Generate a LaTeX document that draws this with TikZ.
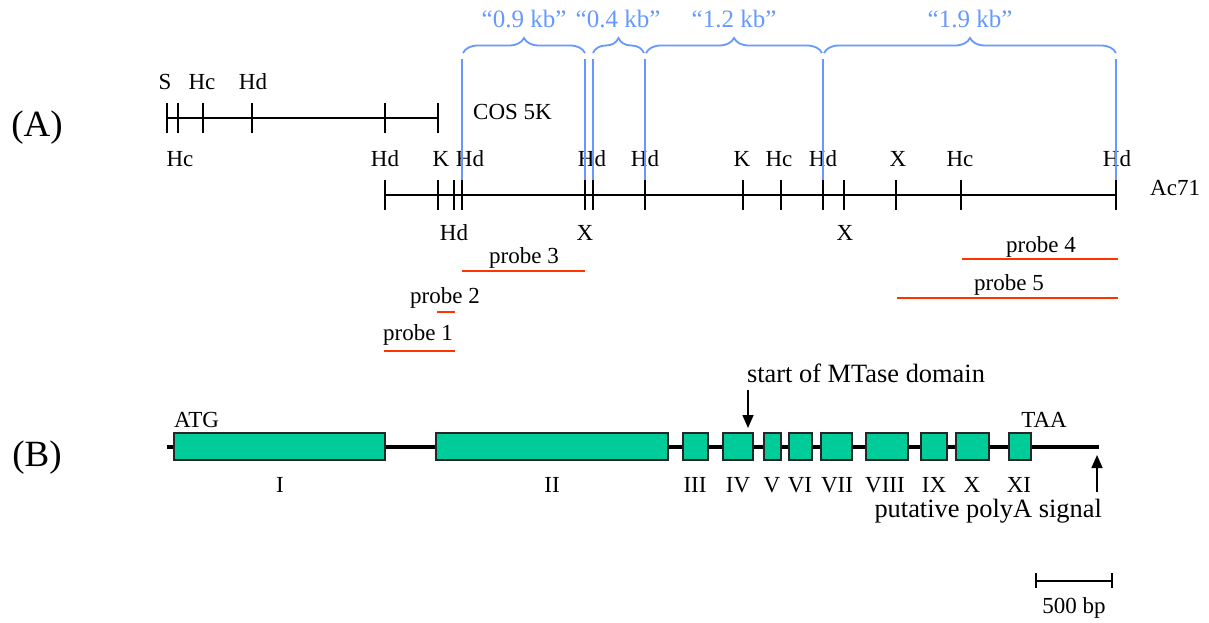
\documentclass[tikz,border=0pt]{standalone}
\usepackage{fontspec}
\setmainfont{Liberation Serif}
\usetikzlibrary{arrows.meta,decorations.pathreplacing}
\definecolor{kbblue}{RGB}{102,153,255}
\definecolor{probered}{RGB}{255,51,0}
\definecolor{exongreen}{RGB}{0,204,153}
\tikzset{
  lbl/.style={inner sep=0pt, anchor=base, font=\fontsize{23}{23}\selectfont},
  biglbl/.style={inner sep=0pt, anchor=base, font=\fontsize{26.4}{26}\selectfont},
  panel/.style={inner sep=0pt, anchor=base, font=\fontsize{37}{37}\selectfont},
  kblbl/.style={inner sep=0pt, anchor=base, font=\fontsize{25}{25}\selectfont, text=kbblue},
  mapline/.style={line width=1.8pt, black},
  tick/.style={line width=1.5pt, black},
  bluel/.style={line width=1.8pt, kbblue},
  kbbrace/.style={line width=1.8pt, kbblue, decorate, decoration={brace, amplitude=15pt}},
  probeline/.style={line width=2pt, probered},
  exon/.style={draw=black!85, line width=1.5pt, fill=exongreen, inner sep=0pt, minimum height=27pt},
  geneline/.style={line width=3.8pt, black},
  arr/.style={line width=1.6pt, -{Triangle[width=11pt,length=13pt]}},
}
\begin{document}
\begin{tikzpicture}[x=1pt,y=-1pt]
\useasboundingbox (0,0) rectangle (1209,623);

% ---------- (A) ----------
\node[panel] (pA) at (37,136) {(A)};

% COS 5K map
\coordinate (c0) at (167,118);
\coordinate (c1) at (438,118);
\draw[mapline] (c0) -- (c1);
\foreach \x in {167,178,203,252,385,438} \draw[tick] (\x,103) -- (\x,133);
\node[lbl] (tS) at (165,90) {S};
\node[lbl] (tHc) at (202,90) {Hc};
\node[lbl] (tHd) at (253,90) {Hd};
\node[lbl] (bHc) at (180,166) {Hc};
\node[lbl, anchor=base west] (cos) at (473,120) {COS 5K};

% Ac71 map
\coordinate (m0) at (385,195);
\coordinate (m1) at (1116,195);
\draw[mapline] (m0) -- (m1);
\foreach \x in {385,438,454,462,585,593,645,743,781,823,844,896,961,1116} \draw[tick] (\x,180) -- (\x,210);
\node[lbl] (a1) at (385,166) {Hd};
\node[lbl] (a2) at (441,166) {K};
\node[lbl] (a3) at (470,166) {Hd};
\node[lbl] (a4) at (592,166) {Hd};
\node[lbl] (a5) at (645,166) {Hd};
\node[lbl] (a6) at (742,166) {K};
\node[lbl] (a7) at (779,166) {Hc};
\node[lbl] (a8) at (823,166) {Hd};
\node[lbl] (a9) at (898,166) {X};
\node[lbl] (a10) at (960,166) {Hc};
\node[lbl] (a11) at (1117,166) {Hd};
\node[lbl] (b1) at (454,240) {Hd};
\node[lbl] (b2) at (585,240) {X};
\node[lbl] (b3) at (845,240) {X};
\node[lbl, anchor=base west] (ac71) at (1150,195) {Ac71};

% blue fragment markers
\foreach \x/\n in {462/k1,585/k2,593/k3,645/k4,823/k5,1116/k6} {
  \coordinate (\n t) at (\x,59);
  \coordinate (\n b) at (\x,180);
  \draw[bluel] (\n t) -- (\n b);
}
\draw[kbbrace] (463,53) -- (585,53);
\draw[kbbrace] (593,53) -- (644,53);
\draw[kbbrace] (646,53) -- (822,53);
\draw[kbbrace] (824,53) -- (1116,53);
\node[kblbl] (kb1) at (524,28) {“0.9 kb”};
\node[kblbl] (kb2) at (618,28) {“0.4 kb”};
\node[kblbl] (kb3) at (734,28) {“1.2 kb”};
\node[kblbl] (kb4) at (970,28) {“1.9 kb”};

% probes
\node[lbl] (p3) at (524,263) {probe 3};
\draw[probeline] (462,271) -- (585,271);
\node[lbl] (p2) at (445,303) {probe 2};
\draw[probeline] (437,312) -- (455,312);
\node[lbl] (p1) at (418,340) {probe 1};
\draw[probeline] (384,351) -- (455,351);
\node[lbl] (p4) at (1041,252) {probe 4};
\draw[probeline] (962,259) -- (1118,259);
\node[lbl] (p5) at (1009,290) {probe 5};
\draw[probeline] (897,298) -- (1118,298);

% ---------- (B) ----------
\node[panel] (pB) at (37,466) {(B)};
\coordinate (g0) at (167,447);
\coordinate (g1) at (1099,447);
\draw[geneline] (g0) -- (g1);

\foreach \a/\b/\n/\r in {174/385/e1/I,436/668/e2/II,683/708/e3/III,723/753/e4/IV,764/781/e5/V,789/812/e6/VI,821/852/e7/VII,866/908/e8/VIII,921/947/e9/IX,956/989/e10/X,1009/1031/e11/XI} {
  \pgfmathsetmacro{\w}{\b-\a}
  \pgfmathsetmacro{\c}{(\a+\b)/2}
  \node[exon, minimum width=\w pt] (\n) at (\c,446.5) {};
}
\node[lbl] (r1) at (280,492) {I};
\node[lbl] (r2) at (552,492) {II};
\node[lbl] (r3) at (695,492) {III};
\node[lbl] (r4) at (738,492) {IV};
\node[lbl] (r5) at (772,492) {V};
\node[lbl] (r6) at (800,492) {VI};
\node[lbl] (r7) at (837,492) {VII};
\node[lbl] (r8) at (885,492) {VIII};
\node[lbl] (r9) at (934,492) {IX};
\node[lbl] (r10) at (972,492) {X};
\node[lbl] (r11) at (1019,492) {XI};

\node[lbl, anchor=base west] (atg) at (174,427) {ATG};
\node[lbl] (taa) at (1044,427) {TAA};

\node[biglbl] (mt) at (866,382) {start of MTase domain};
\coordinate (mtTip) at (748,428);
\draw[arr] (748,390) -- (mtTip);

\node[biglbl, anchor=base east] (pa) at (1102,517) {putative polyA signal};
\coordinate (paTip) at (1097,455);
\draw[arr] (1097,492) -- (paTip);

% scale bar
\coordinate (s0) at (1036,581);
\coordinate (s1) at (1112,581);
\draw[mapline] (s0) -- (s1);
\draw[tick] (1036,573) -- (1036,588);
\draw[tick] (1112,573) -- (1112,588);
\node[lbl] (sb) at (1074,613) {500 bp};
\end{tikzpicture}
\end{document}
